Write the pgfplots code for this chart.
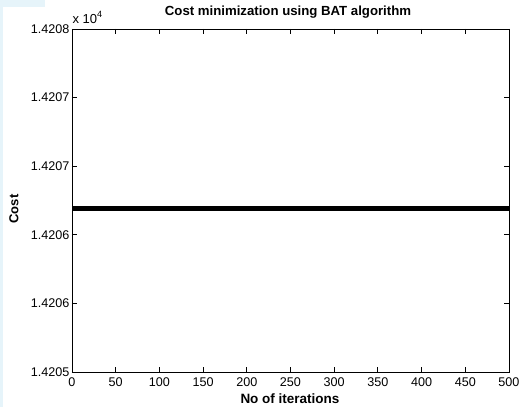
\documentclass[border=0pt]{standalone}
\usepackage{pgfplots}
\pgfplotsset{compat=1.18}
\usepackage{fontspec}
\setmainfont{Liberation Sans}
\definecolor{tint}{RGB}{230,244,250}
\newcommand\tl{\fontsize{12.6}{15}\selectfont}
\begin{document}
\begin{tikzpicture}
\path[use as bounding box] (-72pt,-35pt) rectangle (448pt,372pt);
\fill[tint] (-72pt,-35pt) rectangle (-69pt,372pt);
\fill[tint] (-72pt,365pt) rectangle (-27pt,372pt);
\begin{axis}[
  at={(0,0)}, anchor=south west,
  scale only axis, width=437pt, height=343pt,
  xmin=0, xmax=500, ymin=1.4205, ymax=1.4208,
  xtick={0,50,...,500},
  xticklabels={{\tl 0},{\tl 50},{\tl 100},{\tl 150},{\tl 200},{\tl 250},{\tl 300},{\tl 350},{\tl 400},{\tl 450},{\tl 500}},
  ytick={1.4205,1.42056,1.42062,1.42068,1.42074,1.4208},
  yticklabels={{\tl 1.4205},{\tl 1.4206},{\tl 1.4206},{\tl 1.4207},{\tl 1.4207},{\tl 1.4208}},
  xticklabel style={yshift=-2pt},
  yticklabel style={xshift=1pt},
  tick align=inside, major tick length=5pt,
  xtick pos=both, ytick pos=both,
  axis line style={line width=0.8pt},
  every tick/.style={black, line width=0.8pt},
  scaled y ticks=false,
  clip=false,
]
\addplot[black, line width=4.5pt] coordinates {(0,1.420643) (500,1.420643)};
\end{axis}
\node[font=\bfseries\fontsize{13.2}{15}\selectfont] at (216pt,360pt) {Cost minimization using BAT algorithm};
\node[font=\bfseries\fontsize{13.5}{15}\selectfont] at (218pt,-27pt) {No of iterations};
\node[font=\bfseries\fontsize{13}{15}\selectfont, rotate=90] at (-58pt,163pt) {Cost};
\node[font=\fontsize{13}{15}\selectfont, anchor=west] at (-3pt,355pt) {x $\mathrm{10}^{\mathrm{4}}$};
\end{tikzpicture}
\end{document}
